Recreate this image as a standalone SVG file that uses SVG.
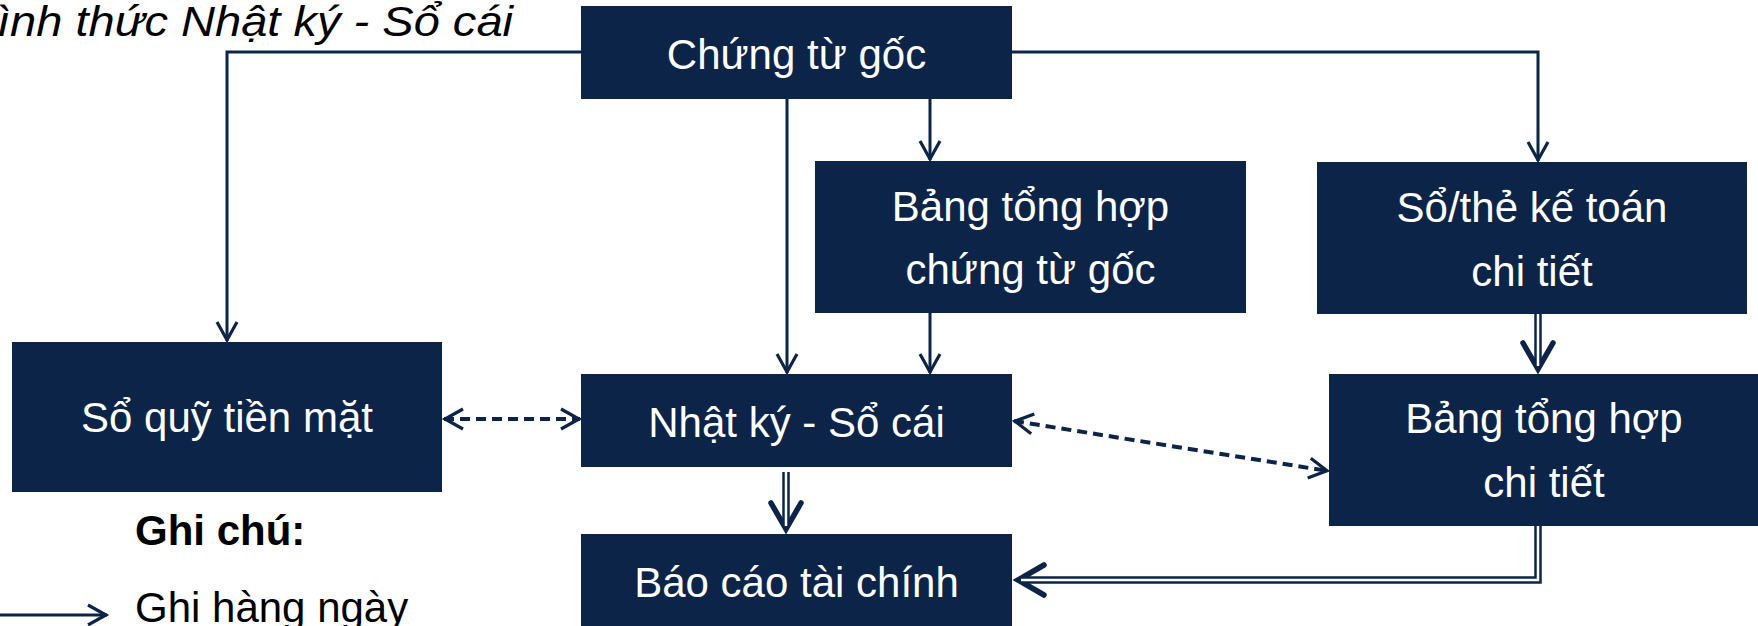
<svg xmlns="http://www.w3.org/2000/svg" width="1758" height="626" viewBox="0 0 1758 626">
  <style>
    .box { fill: #0c2448; }
    .label { fill: #ffffff; font-family: "Liberation Sans", Arial, sans-serif; font-size: 42px; text-anchor: middle; }
    .title { fill: #000000; font-family: "Liberation Sans", Arial, sans-serif; font-size: 43px; font-style: italic; }
    .legend { fill: #000000; font-family: "Liberation Sans", Arial, sans-serif; font-size: 42px; }
    .bold { font-weight: bold; }
    .line { fill: none; stroke: #0c2448; stroke-width: 3; }
    .dash { fill: none; stroke: #0c2448; stroke-width: 4; stroke-dasharray: 10 6; }
    .dbl-outer { fill: none; stroke: #0c2448; stroke-width: 7.5; stroke-linejoin: miter; }
    .dbl-inner { fill: none; stroke: #ffffff; stroke-width: 2.5; stroke-linejoin: miter; }
    .head { fill: none; stroke: #0c2448; stroke-width: 3.2; stroke-linejoin: miter; stroke-linecap: butt; stroke-dasharray: none; }
    .head-thick { fill: none; stroke: #0c2448; stroke-width: 5.5; stroke-linejoin: miter; stroke-linecap: round; stroke-dasharray: none; }
  </style>
  <defs>
    <marker id="arrow" markerUnits="userSpaceOnUse" markerWidth="40" markerHeight="40" refX="0" refY="0" orient="auto-start-reverse" overflow="visible">
      <path class="head" d="M-19,-10 L-1,0 L-19,10"/>
    </marker>
    <marker id="arrow-thick" markerUnits="userSpaceOnUse" markerWidth="60" markerHeight="60" refX="0" refY="0" orient="auto" overflow="visible">
      <path class="head-thick" d="M-23,-15 L3,0 L-23,15"/>
    </marker>
  </defs>

  <!-- heading, clipped by the left edge -->
  <text class="title" x="-3" y="36" textLength="516" lengthAdjust="spacingAndGlyphs">ình thức Nhật ký - Sổ cái</text>

  <!-- connectors -->
  <g id="connectors">
    <!-- daily entries -->
    <path class="line" d="M581,52 H227 V341" marker-end="url(#arrow)"/>
    <path class="line" d="M787,99 V373" marker-end="url(#arrow)"/>
    <path class="line" d="M930,99 V160" marker-end="url(#arrow)"/>
    <path class="line" d="M930,313 V373" marker-end="url(#arrow)"/>
    <path class="line" d="M1012,52 H1538 V161" marker-end="url(#arrow)"/>

    <!-- cross-checks -->
    <path class="dash" d="M444,419 H580" marker-start="url(#arrow)" marker-end="url(#arrow)"/>
    <path class="dash" d="M1014,421 L1328,471" marker-start="url(#arrow)" marker-end="url(#arrow)"/>

    <!-- period-end entries (double lines) -->
    <path class="dbl-outer" d="M1538,314 V366" marker-end="url(#arrow-thick)"/>
    <path class="dbl-inner" d="M1538,314 V366"/>
    <path class="dbl-outer" d="M786,472 V526" marker-end="url(#arrow-thick)"/>
    <path class="dbl-inner" d="M786,472 V526"/>
    <path class="dbl-outer" d="M1538,526 V580 H1021" marker-end="url(#arrow-thick)"/>
    <path class="dbl-inner" d="M1538,526 V580 H1021"/>

    <!-- legend arrow -->
    <path class="line" d="M0,615 H107" marker-end="url(#arrow)"/>
  </g>

  <g id="chung-tu-goc">
    <rect class="box" x="581" y="6" width="431" height="93"/>
    <text class="label" x="796.5" y="69">Chứng từ gốc</text>
  </g>

  <g id="bang-tong-hop-chung-tu-goc">
    <rect class="box" x="815" y="161" width="431" height="152"/>
    <text class="label" x="1030.5" y="221">Bảng tổng hợp</text>
    <text class="label" x="1030.5" y="284">chứng từ gốc</text>
  </g>

  <g id="so-the-ke-toan-chi-tiet">
    <rect class="box" x="1317" y="162" width="430" height="152"/>
    <text class="label" x="1532" y="222">Sổ/thẻ kế toán</text>
    <text class="label" x="1532" y="286">chi tiết</text>
  </g>

  <g id="so-quy-tien-mat">
    <rect class="box" x="12" y="342" width="430" height="150"/>
    <text class="label" x="227" y="432">Sổ quỹ tiền mặt</text>
  </g>

  <g id="nhat-ky-so-cai">
    <rect class="box" x="581" y="374" width="431" height="93"/>
    <text class="label" x="796.5" y="437">Nhật ký - Sổ cái</text>
  </g>

  <g id="bang-tong-hop-chi-tiet">
    <rect class="box" x="1329" y="374" width="430" height="152"/>
    <text class="label" x="1544" y="433">Bảng tổng hợp</text>
    <text class="label" x="1544" y="497">chi tiết</text>
  </g>

  <g id="bao-cao-tai-chinh">
    <rect class="box" x="581" y="534" width="431" height="93"/>
    <text class="label" x="796.5" y="597">Báo cáo tài chính</text>
  </g>

  <g id="legend">
    <text class="legend bold" x="135" y="545">Ghi chú:</text>
    <text class="legend" x="135" y="622">Ghi hàng ngày</text>
  </g>
</svg>
